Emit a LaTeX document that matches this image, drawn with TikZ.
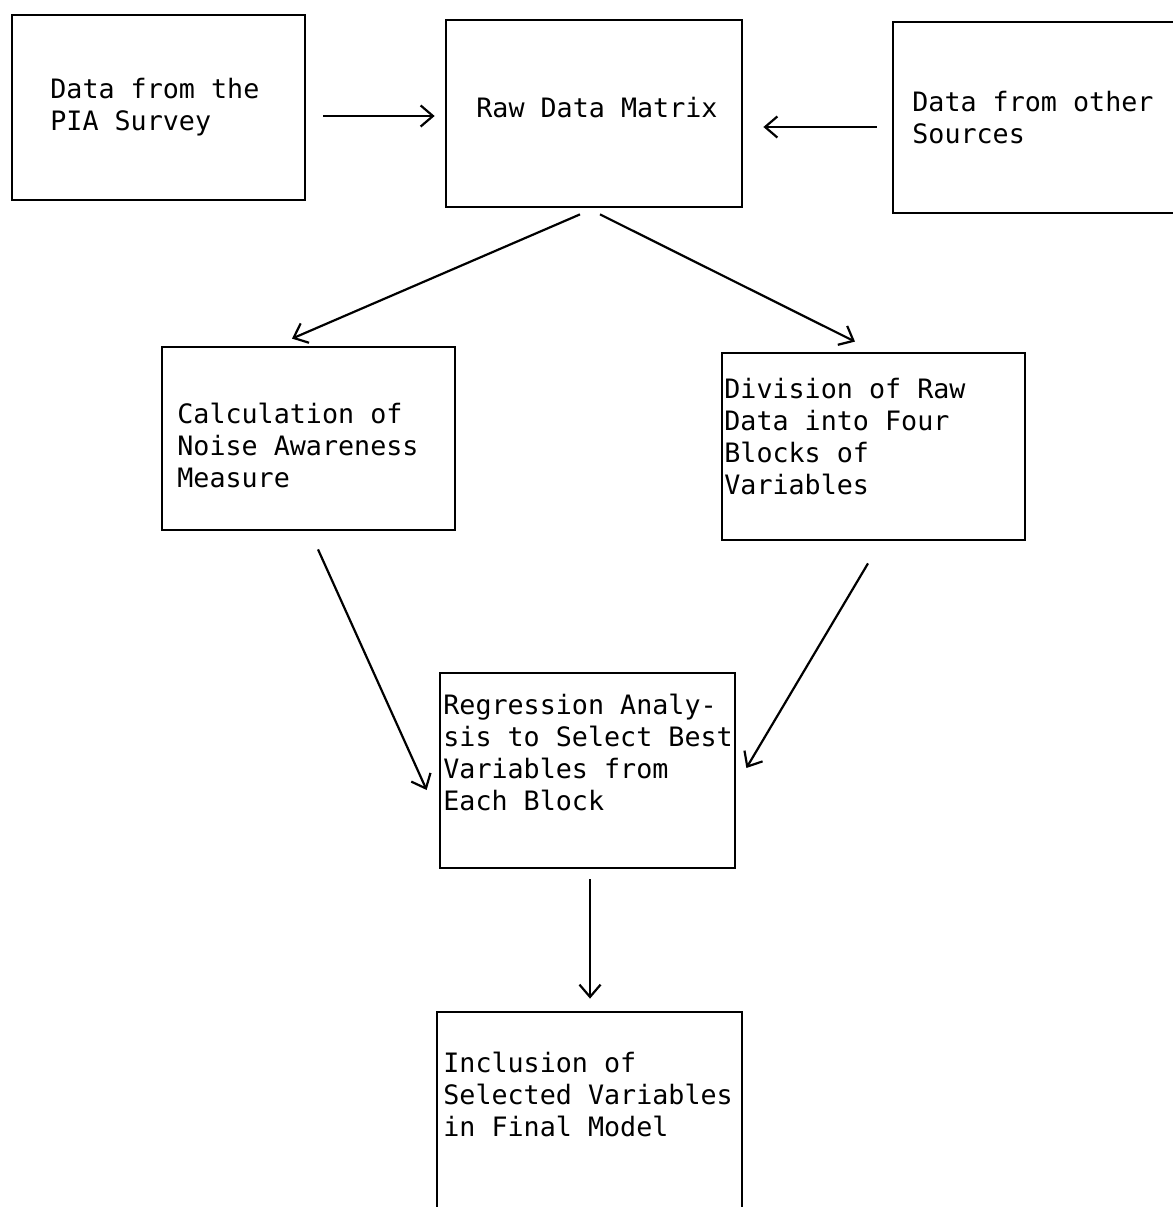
\documentclass[tikz,border=0pt]{standalone}
\usepackage{fontspec}
\setmonofont{DejaVu Sans Mono}
\usetikzlibrary{arrows.meta,calc}
\begin{document}
\begin{tikzpicture}[x=0.02cm, y=-0.02cm,
		box/.style={rectangle,draw,line width=1.6pt,inner sep=0pt},
		txt/.style={font=\ttfamily\fontsize{15.2}{18.2}\selectfont,align=left,inner sep=0pt,anchor=west},
		arr/.style={line width=1.25pt,-{Straight Barb[length=7pt,width=12pt]}}
		]
	\useasboundingbox[fill=white] (0,0) rectangle (1173,1207);
	% boxes
	\node [box,minimum width=5.86cm,minimum height=3.7cm] (pia) at (158.5,107.5) {};
	\node [box,minimum width=5.92cm,minimum height=3.74cm] (raw) at (594,113.5) {};
	\node [box,minimum width=5.84cm,minimum height=3.82cm] (other) at (1039,117.5) {};
	\node [box,minimum width=5.86cm,minimum height=3.66cm] (calc) at (308.5,438.5) {};
	\node [box,minimum width=6.06cm,minimum height=3.74cm] (div) at (873.5,446.5) {};
	\node [box,minimum width=5.9cm,minimum height=3.9cm] (regr) at (587.5,770.5) {};
	\node [box,minimum width=6.1cm,minimum height=4.06cm] (incl) at (589.5,1113.5) {};
	% texts
	\node [txt] (tpia) at (50,107.5) {Data from the\\PIA Survey};
	\node [txt] (traw) at (476,108) {Raw Data Matrix};
	\node [txt] (tother) at (912,118) {Data from other\\Sources};
	\node [txt] (tcalc) at (177,445) {Calculation of\\Noise Awareness\\Measure};
	\node [txt] (tdiv) at (724,436.5) {Division of Raw\\Data into Four\\Blocks of\\Variables};
	\node [txt] (tregr) at (443,752.5) {Regression Analy-\\sis to Select Best\\Variables from\\Each Block};
	\node [txt] (tincl) at (443,1094.5) {Inclusion of\\Selected Variables\\in Final Model};
	% arrows
	\draw [arr] ($(pia.east)+(17,8.5)$) -- ($(raw.west)+(-10,2.5)$);
	\draw [arr] ($(other.west)+(-15,9.5)$) -- ($(raw.east)+(20,13.5)$);
	\draw [arr] ($(raw.south)+(-14,6)$) -- ($(calc.north)+(-16.5,-7)$);
	\draw [arr] ($(raw.south)+(6,6)$) -- ($(div.north)+(-18.5,-10)$);
	\draw [arr] ($(calc.south)+(9.5,18)$) -- ($(regr.west)+(-12,19.5)$);
	\draw [arr] ($(div.south)+(-5.5,22)$) -- ($(regr.east)+(10,-2.5)$);
	\draw [arr] ($(regr.south)+(2.5,10)$) -- ($(incl.north)+(0.5,-12)$);
\end{tikzpicture}
\end{document}
